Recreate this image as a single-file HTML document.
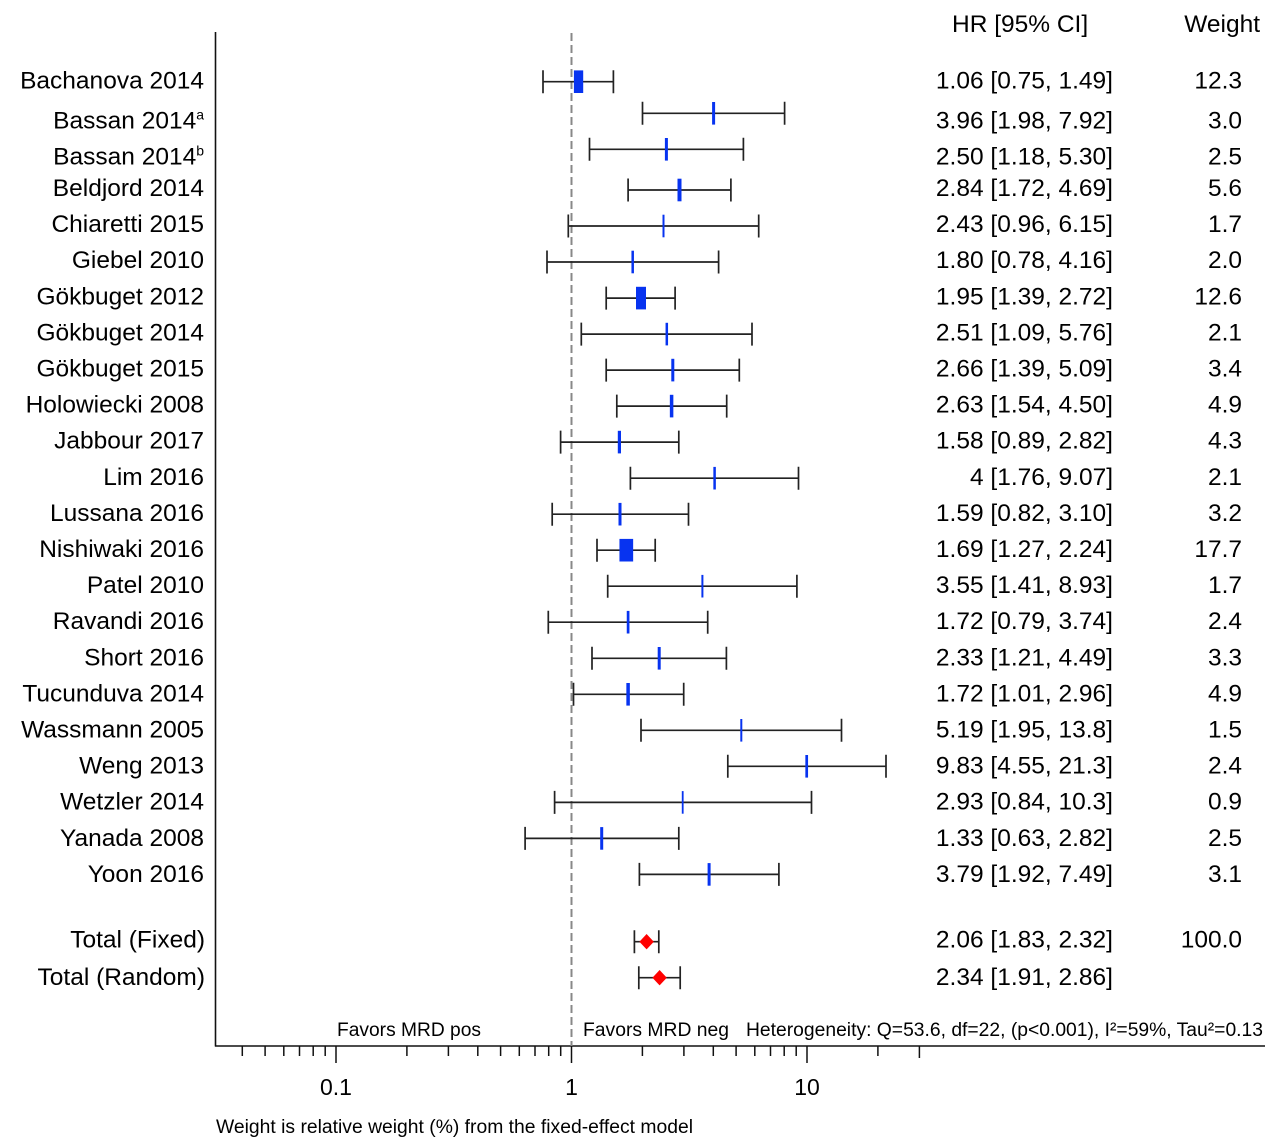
<!DOCTYPE html>
<html><head><meta charset="utf-8"><style>
html,body{margin:0;padding:0;background:#fff;}
svg{display:block;}
text{font-family:"Liberation Sans",Arial,sans-serif;fill:#000;}
</style></head><body>
<svg width="1280" height="1147" viewBox="0 0 1280 1147" xmlns="http://www.w3.org/2000/svg">
<rect width="1280" height="1147" fill="#fff"/>
<!-- axes -->
<line x1="215.5" y1="32" x2="215.5" y2="1046.5" stroke="#111" stroke-width="1.6"/>
<line x1="215" y1="1046" x2="1265" y2="1046" stroke="#111" stroke-width="1.6"/>
<line x1="571.5" y1="33" x2="571.5" y2="1046" stroke="#888" stroke-width="2" stroke-dasharray="8 4"/>
<!-- ticks -->
<g stroke="#111" stroke-width="1.5">
<line x1="242.3" y1="1046" x2="242.3" y2="1056"/>
<line x1="265.1" y1="1046" x2="265.1" y2="1056"/>
<line x1="283.8" y1="1046" x2="283.8" y2="1056"/>
<line x1="299.5" y1="1046" x2="299.5" y2="1056"/>
<line x1="313.2" y1="1046" x2="313.2" y2="1056"/>
<line x1="325.2" y1="1046" x2="325.2" y2="1056"/>
<line x1="336" y1="1046" x2="336" y2="1063"/>
<line x1="406.9" y1="1046" x2="406.9" y2="1056"/>
<line x1="448.4" y1="1046" x2="448.4" y2="1056"/>
<line x1="477.8" y1="1046" x2="477.8" y2="1056"/>
<line x1="500.6" y1="1046" x2="500.6" y2="1056"/>
<line x1="519.3" y1="1046" x2="519.3" y2="1056"/>
<line x1="535" y1="1046" x2="535" y2="1056"/>
<line x1="548.7" y1="1046" x2="548.7" y2="1056"/>
<line x1="560.7" y1="1046" x2="560.7" y2="1056"/>
<line x1="571.5" y1="1046" x2="571.5" y2="1063"/>
<line x1="642.4" y1="1046" x2="642.4" y2="1056"/>
<line x1="683.9" y1="1046" x2="683.9" y2="1056"/>
<line x1="713.3" y1="1046" x2="713.3" y2="1056"/>
<line x1="736.1" y1="1046" x2="736.1" y2="1056"/>
<line x1="754.8" y1="1046" x2="754.8" y2="1056"/>
<line x1="770.5" y1="1046" x2="770.5" y2="1056"/>
<line x1="784.2" y1="1046" x2="784.2" y2="1056"/>
<line x1="796.2" y1="1046" x2="796.2" y2="1056"/>
<line x1="807" y1="1046" x2="807" y2="1063"/>
<line x1="877.9" y1="1046" x2="877.9" y2="1056"/>
<line x1="919.4" y1="1046" x2="919.4" y2="1058"/>
</g>
<g font-size="23" text-anchor="middle">
<text x="336" y="1095">0.1</text>
<text x="571.5" y="1095">1</text>
<text x="807" y="1095">10</text>
</g>
<!-- bottom texts -->
<g font-size="19">
<text x="337" y="1036" textLength="144" lengthAdjust="spacingAndGlyphs">Favors MRD pos</text>
<text x="583" y="1036" textLength="146" lengthAdjust="spacingAndGlyphs">Favors MRD neg</text>
<text x="746" y="1036" textLength="517" lengthAdjust="spacingAndGlyphs">Heterogeneity: Q=53.6, df=22, (p&lt;0.001), I²=59%, Tau²=0.13</text>
<text x="216" y="1133" textLength="477" lengthAdjust="spacingAndGlyphs">Weight is relative weight (%) from the fixed-effect model</text>
</g>
<!-- headers -->
<g font-size="24.5">
<text x="952" y="32">HR [95% CI]</text>
<text x="1260" y="32" text-anchor="end">Weight</text>
</g>
<!-- CI lines -->
<g stroke="#222" stroke-width="1.7" fill="none">
<path d="M543 81.7H613.4M543 70.2V93.2M613.4 70.2V93.2"/>
<path d="M642.5 113.3H784.6M642.5 101.8V124.8M784.6 101.8V124.8"/>
<path d="M589.5 149.3H743.4M589.5 137.8V160.8M743.4 137.8V160.8"/>
<path d="M628.1 190H730.9M628.1 178.5V201.5M730.9 178.5V201.5"/>
<path d="M568.3 226H758.7M568.3 214.5V237.5M758.7 214.5V237.5"/>
<path d="M547 262H718.6M547 250.5V273.5M718.6 250.5V273.5"/>
<path d="M606.2 298.1H675.1M606.2 286.6V309.6M675.1 286.6V309.6"/>
<path d="M581.3 334.1H752M581.3 322.6V345.6M752 322.6V345.6"/>
<path d="M606.2 370.1H739.3M606.2 358.6V381.6M739.3 358.6V381.6"/>
<path d="M616.8 406.1H726.7M616.8 394.6V417.6M726.7 394.6V417.6"/>
<path d="M560.6 442.1H678.8M560.6 430.6V453.6M678.8 430.6V453.6"/>
<path d="M630.4 478.2H798.5M630.4 466.7V489.7M798.5 466.7V489.7"/>
<path d="M552.2 514.2H688.5M552.2 502.7V525.7M688.5 502.7V525.7"/>
<path d="M597 550.2H655.2M597 538.7V561.7M655.2 538.7V561.7"/>
<path d="M607.7 586.2H796.9M607.7 574.7V597.7M796.9 574.7V597.7"/>
<path d="M548.3 622.2H707.7M548.3 610.7V633.7M707.7 610.7V633.7"/>
<path d="M592 658.3H726.4M592 646.8V669.8M726.4 646.8V669.8"/>
<path d="M573.5 694.3H683.7M573.5 682.8V705.8M683.7 682.8V705.8"/>
<path d="M641 730.3H841.5M641 718.8V741.8M841.5 718.8V741.8"/>
<path d="M727.8 766.3H886M727.8 754.8V777.8M886 754.8V777.8"/>
<path d="M554.6 802.4H811.5M554.6 790.9V813.9M811.5 790.9V813.9"/>
<path d="M525.1 838.4H678.8M525.1 826.9V849.9M678.8 826.9V849.9"/>
<path d="M639.4 874.4H778.9M639.4 862.9V885.9M778.9 862.9V885.9"/>
<path d="M634.4 941.7H658.8M634.4 930.2V953.2M658.8 930.2V953.2"/>
<path d="M638.8 977.7H680.2M638.8 966.2V989.2M680.2 966.2V989.2"/>
</g>
<!-- point estimates -->
<g fill="#0733f0">
<rect x="573.9" y="70.4" width="9.3" height="22.6"/>
<rect x="712.1" y="102" width="3" height="22.6"/>
<rect x="664.9" y="138" width="3" height="22.6"/>
<rect x="677.5" y="178.7" width="4" height="22.6"/>
<rect x="662.5" y="214.7" width="2" height="22.6"/>
<rect x="631.45" y="250.7" width="2.5" height="22.6"/>
<rect x="636" y="286.8" width="10" height="22.6"/>
<rect x="665.55" y="322.8" width="2.5" height="22.6"/>
<rect x="671.3" y="358.8" width="3" height="22.6"/>
<rect x="669.85" y="394.8" width="3.5" height="22.6"/>
<rect x="617.8" y="430.8" width="3.2" height="22.6"/>
<rect x="713.35" y="466.9" width="2.5" height="22.6"/>
<rect x="618.5" y="502.9" width="3" height="22.6"/>
<rect x="619.45" y="538.9" width="13.7" height="22.6"/>
<rect x="701.4" y="574.9" width="2" height="22.6"/>
<rect x="626.75" y="610.9" width="2.7" height="22.6"/>
<rect x="657.7" y="647" width="3" height="22.6"/>
<rect x="626.35" y="683" width="3.5" height="22.6"/>
<rect x="740.3" y="719" width="2" height="22.6"/>
<rect x="805.35" y="755" width="2.7" height="22.6"/>
<rect x="681.8" y="791.1" width="1.8" height="22.6"/>
<rect x="600.2" y="827.1" width="3" height="22.6"/>
<rect x="707.6" y="863.1" width="3" height="22.6"/>
</g>
<!-- diamonds -->
<g fill="#ff0000">
<polygon points="639.4,941.7 646.6,934 653.8,941.7 646.6,949.4"/>
<polygon points="652.4,977.7 659.6,970 666.8,977.7 659.6,985.4"/>
</g>
<!-- study labels -->
<g font-size="24.5" text-anchor="end">
<text x="204" y="88.3">Bachanova 2014</text>
<text x="204" y="128.3">Bassan 2014<tspan font-size="14" dy="-9">a</tspan></text>
<text x="204" y="164.3">Bassan 2014<tspan font-size="14" dy="-9">b</tspan></text>
<text x="204" y="196">Beldjord 2014</text>
<text x="204" y="232.1">Chiaretti 2015</text>
<text x="204" y="268.2">Giebel 2010</text>
<text x="204" y="304.3">Gökbuget 2012</text>
<text x="204" y="340.4">Gökbuget 2014</text>
<text x="204" y="376.5">Gökbuget 2015</text>
<text x="204" y="412.6">Holowiecki 2008</text>
<text x="204" y="448.7">Jabbour 2017</text>
<text x="204" y="484.8">Lim 2016</text>
<text x="204" y="520.9">Lussana 2016</text>
<text x="204" y="557">Nishiwaki 2016</text>
<text x="204" y="593.1">Patel 2010</text>
<text x="204" y="629.2">Ravandi 2016</text>
<text x="204" y="665.3">Short 2016</text>
<text x="204" y="701.4">Tucunduva 2014</text>
<text x="204" y="737.5">Wassmann 2005</text>
<text x="204" y="773.6">Weng 2013</text>
<text x="204" y="809.7">Wetzler 2014</text>
<text x="204" y="845.8">Yanada 2008</text>
<text x="204" y="881.9">Yoon 2016</text>
<text x="205" y="947.3">Total (Fixed)</text>
<text x="205" y="985">Total (Random)</text>
</g>
<!-- HR column -->
<g font-size="24.5" text-anchor="end">
<text x="1113" y="88.3">1.06 [0.75, 1.49]</text>
<text x="1113" y="128.3">3.96 [1.98, 7.92]</text>
<text x="1113" y="164.3">2.50 [1.18, 5.30]</text>
<text x="1113" y="196">2.84 [1.72, 4.69]</text>
<text x="1113" y="232.1">2.43 [0.96, 6.15]</text>
<text x="1113" y="268.2">1.80 [0.78, 4.16]</text>
<text x="1113" y="304.3">1.95 [1.39, 2.72]</text>
<text x="1113" y="340.4">2.51 [1.09, 5.76]</text>
<text x="1113" y="376.5">2.66 [1.39, 5.09]</text>
<text x="1113" y="412.6">2.63 [1.54, 4.50]</text>
<text x="1113" y="448.7">1.58 [0.89, 2.82]</text>
<text x="1113" y="484.8">4 [1.76, 9.07]</text>
<text x="1113" y="520.9">1.59 [0.82, 3.10]</text>
<text x="1113" y="557">1.69 [1.27, 2.24]</text>
<text x="1113" y="593.1">3.55 [1.41, 8.93]</text>
<text x="1113" y="629.2">1.72 [0.79, 3.74]</text>
<text x="1113" y="665.3">2.33 [1.21, 4.49]</text>
<text x="1113" y="701.4">1.72 [1.01, 2.96]</text>
<text x="1113" y="737.5">5.19 [1.95, 13.8]</text>
<text x="1113" y="773.6">9.83 [4.55, 21.3]</text>
<text x="1113" y="809.7">2.93 [0.84, 10.3]</text>
<text x="1113" y="845.8">1.33 [0.63, 2.82]</text>
<text x="1113" y="881.9">3.79 [1.92, 7.49]</text>
<text x="1113" y="947.3">2.06 [1.83, 2.32]</text>
<text x="1113" y="985">2.34 [1.91, 2.86]</text>
</g>
<!-- weight column -->
<g font-size="24.5" text-anchor="end">
<text x="1242" y="88.3">12.3</text>
<text x="1242" y="128.3">3.0</text>
<text x="1242" y="164.3">2.5</text>
<text x="1242" y="196">5.6</text>
<text x="1242" y="232.1">1.7</text>
<text x="1242" y="268.2">2.0</text>
<text x="1242" y="304.3">12.6</text>
<text x="1242" y="340.4">2.1</text>
<text x="1242" y="376.5">3.4</text>
<text x="1242" y="412.6">4.9</text>
<text x="1242" y="448.7">4.3</text>
<text x="1242" y="484.8">2.1</text>
<text x="1242" y="520.9">3.2</text>
<text x="1242" y="557">17.7</text>
<text x="1242" y="593.1">1.7</text>
<text x="1242" y="629.2">2.4</text>
<text x="1242" y="665.3">3.3</text>
<text x="1242" y="701.4">4.9</text>
<text x="1242" y="737.5">1.5</text>
<text x="1242" y="773.6">2.4</text>
<text x="1242" y="809.7">0.9</text>
<text x="1242" y="845.8">2.5</text>
<text x="1242" y="881.9">3.1</text>
<text x="1242" y="947.3">100.0</text>
</g>
</svg>
</body></html>
